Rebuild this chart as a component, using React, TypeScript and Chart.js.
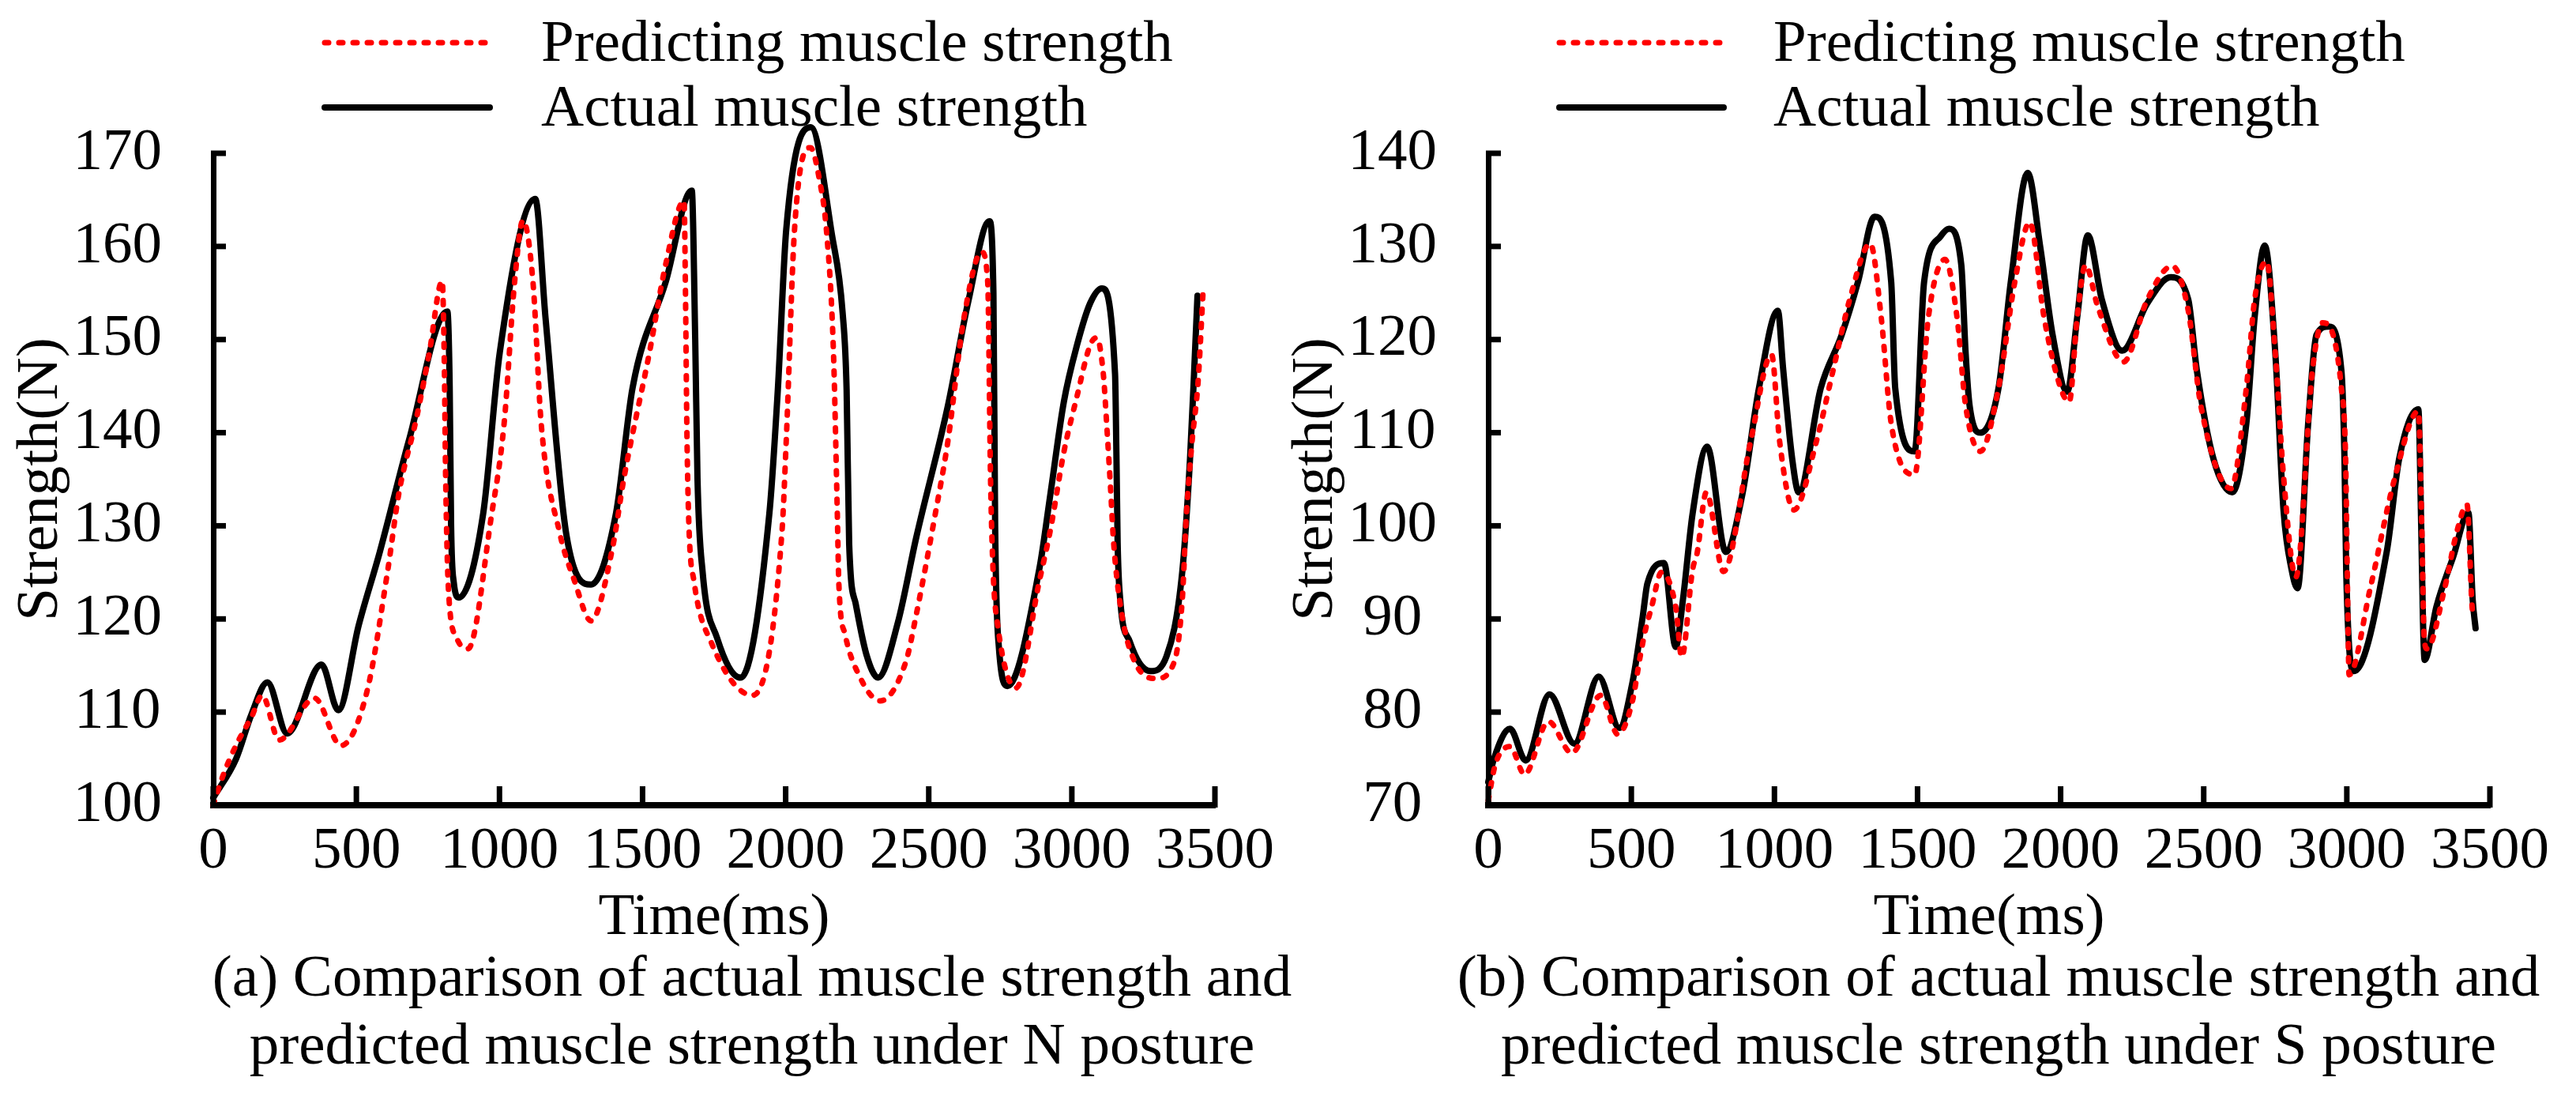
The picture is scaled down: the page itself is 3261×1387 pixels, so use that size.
import React, { useEffect, useRef } from "react";
import { Chart, registerables } from "chart.js";

Chart.register(...registerables);

const FONT_FAMILY = '"Liberation Serif", "Times New Roman", Times, serif';
const FONT_SIZE = 75;

// ---------- text ----------
const seriesNames = ["Predicting muscle strength", "Actual muscle strength"];
const xAxisTitle = "Time(ms)";
const yAxisTitle = "Strength(N)";
const captionA = [
  "(a) Comparison of actual muscle strength and",
  "predicted muscle strength under N posture",
];
const captionB = [
  "(b) Comparison of actual muscle strength and",
  "predicted muscle strength under S posture",
];

// ---------- axis ranges ----------
const xMin = 0;
const xMax = 3500;
const xStep = 500;
const yRangeA = [100, 170];
const yRangeB = [70, 140];
const yStep = 10;

// ---------- data: [time ms, strength N] ----------
const actualA: number[][] = [
  [0, 100.8], [80, 105], [134, 109.8], [189, 113.2], [258, 107.7], [378, 115.1],
  [437, 110.2], [508, 119.3], [581, 127.1], [683, 139.1], [818, 153], [826, 145],
  [831, 130], [840, 124], [858, 122.3], [943, 131.3], [1001, 148.6], [1125, 165.1],
  [1161, 152.3], [1234, 129], [1320, 123.7], [1407, 131.3], [1465, 144.8], [1581, 156.2],
  [1672, 166], [1684, 150], [1692, 135], [1710, 125], [1760, 118], [1843, 113.7],
  [1943, 131.3], [1973, 144.8], [2002, 161.8], [2088, 172.8], [2162, 161.2], [2199, 152.9],
  [2213, 144.6], [2222, 128], [2245, 121.6], [2282, 116.2], [2323, 113.7], [2392, 119.6],
  [2456, 128.7], [2567, 142.9], [2639, 154.2], [2712, 162.7],
  [2726, 155], [2732, 130], [2745, 117], [2775, 112.8], [2886, 125.3], [2926, 133.6],
  [2972, 143.3], [3018, 149.4], [3064, 153.9], [3105, 155.5], [3151, 146.3], [3156, 137.2],
  [3160, 128.2], [3169, 122.1], [3202, 117.6], [3275, 114.4], [3331, 116], [3386, 125.1],
  [3413, 137.2], [3427, 146.3], [3439, 154.7],
];
const predictedA: number[][] = [
  [0, 100], [33, 103.1], [79, 106.4], [134, 109.5], [171, 111.8], [230, 107],
  [354, 111.5], [446, 106.4], [537, 112.2], [610, 125.3], [648, 133.4], [711, 141.7],
  [755, 148.6], [800, 156.3], [807, 148], [812, 135], [822, 123], [850, 118],
  [890, 116.8], [973, 131.3], [1016, 140.9], [1053, 156.2], [1082, 162.8], [1117, 156.2],
  [1146, 140.9], [1210, 129.3], [1262, 124.1], [1320, 119.8], [1393, 127.3], [1436, 135.3],
  [1524, 148.6], [1581, 158.1], [1645, 164.9], [1650, 155], [1655, 140], [1662, 130],
  [1680, 124], [1741, 117.4], [1885, 111.8], [1987, 129.3], [2002, 139.1], [2031, 161.8],
  [2087, 170.6], [2116, 167.5], [2144, 161.2], [2167, 148.7], [2180, 132.1], [2186, 123.7],
  [2208, 118.3], [2254, 114.1], [2330, 111.2], [2420, 115.4], [2456, 120.4],
  [2523, 131.3], [2567, 139.1], [2623, 152.3], [2685, 159.4], [2706, 156.2],
  [2716, 135], [2725, 125], [2741, 119.3], [2805, 112.6], [2886, 124], [2926, 129.7],
  [2972, 137.9], [3018, 143.9], [3064, 149.4], [3087, 150.2], [3110, 146.3], [3123, 140.3],
  [3135, 134.2], [3146, 128.2], [3174, 120.6], [3220, 115.4], [3294, 113.6], [3358, 115.4],
  [3386, 122.1], [3400, 131], [3420, 139], [3441, 145.4], [3459, 155.4],
];
const actualB: number[][] = [
  [0, 72.5], [20, 75], [76, 78.2], [131, 74.8], [214, 81.9], [301, 76.6],
  [386, 83.8], [458, 78.3], [504, 83.2], [540, 90.3], [556, 93.8], [614, 96],
  [655, 87], [680, 92], [714, 101.3], [765, 108.5], [830, 97.2], [888, 103.4],
  [946, 114.8], [1012, 123.1], [1030, 117], [1062, 107.2], [1085, 103.6], [1162, 114.8],
  [1235, 120.5], [1292, 126.2], [1350, 133.2], [1408, 126.2], [1422, 114.8], [1490, 108],
  [1523, 126.2], [1581, 131.1], [1610, 131.9], [1653, 128], [1668, 118.6], [1682, 112.9],
  [1720, 110], [1783, 114.8], [1826, 126.2], [1885, 137.9], [1929, 129.9], [1972, 120.5],
  [2023, 114.4], [2058, 122.4], [2095, 131.2], [2144, 124.3], [2215, 118.8], [2303, 123.9],
  [2385, 126.7], [2446, 124.3], [2476, 116.7], [2534, 107.2], [2600, 103.6], [2649, 111],
  [2678, 122.4], [2713, 130.1], [2750, 118.6], [2779, 101.6], [2807, 95.3], [2828, 93.3],
  [2865, 111], [2894, 120.5], [2937, 121.4], [2981, 116.7], [2992, 107], [2998, 95],
  [3025, 84.4], [3140, 97.3], [3183, 107.2], [3250, 112.5], [3260, 100], [3266, 90],
  [3272, 85.6], [3313, 91.3], [3371, 96.6], [3425, 101.4], [3440, 92], [3450, 89],
];
const predictedB: number[][] = [
  [0, 70.5], [25, 74.4], [76, 76.3], [127, 73.3], [210, 79], [292, 75.6],
  [393, 81.8], [453, 77.6], [504, 81.2], [531, 86], [550, 88.9], [571, 91.3],
  [605, 95], [655, 91.3], [676, 85.9], [714, 95.3], [730, 97.1], [762, 103.6],
  [822, 95.1], [917, 109.1], [990, 118.4], [1018, 109.1], [1068, 101.7], [1147, 109.1],
  [1205, 116.7], [1263, 124.3], [1335, 130.3], [1373, 122.4], [1408, 111], [1490, 105.5],
  [1538, 122.4], [1596, 128.6], [1638, 122.4], [1668, 112.9], [1720, 108], [1783, 114.8],
  [1840, 126.2], [1892, 132.6], [1942, 122.4], [2000, 114.8], [2030, 113.3], [2058, 122.4],
  [2087, 128], [2130, 123.5], [2220, 117.6], [2303, 124.3], [2390, 127.9], [2446, 123.1],
  [2490, 112.9], [2595, 104], [2649, 114.8], [2678, 124.3], [2720, 128.4], [2750, 118.6],
  [2779, 105.3], [2822, 94.5], [2880, 116.7], [2915, 121.8], [2981, 114.8], [2996, 107],
  [3003, 92], [3008, 84], [3082, 93.3], [3169, 105.3], [3250, 112.3], [3262, 100],
  [3270, 88.2], [3280, 86.8], [3342, 93.3], [3384, 99.3], [3420, 102.3], [3437, 91.7],
  [3440, 90.5],
];

// ---------- layout (pixels) ----------
const CANVAS_W = 1647;
const CANVAS_H = 1387;
const AREA_LEFT = 270;
const AREA_TOP = 194;
const AREA_BOTTOM = 1019;
const AREA_RIGHT_PAD = 109;
const X_TICK_LEN = 24;
const Y_TICK_LEN = 16;

const decorPlugin = {
  id: "decor",
  afterDraw(chart: any, _args: any, opts: any) {
    const ctx = chart.ctx;
    const datasets = chart.data.datasets;
    const xs = chart.scales.x;
    const ys = chart.scales.y;
    const area = chart.chartArea;

    // inward tick marks, placed from the library's scales
    ctx.save();
    ctx.strokeStyle = "#000000";
    ctx.lineCap = "butt";
    ctx.setLineDash([]);
    ctx.lineWidth = 7;
    const xTicks = xs.ticks || [];
    for (let i = 0; i < xTicks.length; i++) {
      const px = xs.getPixelForValue(xTicks[i].value);
      ctx.beginPath();
      ctx.moveTo(px, area.bottom + 3);
      ctx.lineTo(px, area.bottom - X_TICK_LEN);
      ctx.stroke();
    }
    const yTicks = ys.ticks || [];
    for (let i = 0; i < yTicks.length; i++) {
      const py = ys.getPixelForValue(yTicks[i].value);
      ctx.beginPath();
      ctx.moveTo(area.left - 3, py);
      ctx.lineTo(area.left + Y_TICK_LEN, py);
      ctx.stroke();
    }
    ctx.restore();

    // legend
    ctx.save();
    datasets.forEach((ds: any, i: number) => {
      const ly = opts.legendLineY[i];
      ctx.save();
      ctx.strokeStyle = ds.borderColor;
      ctx.lineWidth = ds.borderWidth;
      ctx.lineCap = "round";
      ctx.setLineDash(ds.borderDash || []);
      ctx.beginPath();
      ctx.moveTo(opts.legendLineX[0], ly);
      ctx.lineTo(opts.legendLineX[1], ly);
      ctx.stroke();
      ctx.restore();
      ctx.fillStyle = "#000";
      ctx.font = `${FONT_SIZE}px ${FONT_FAMILY}`;
      ctx.textAlign = "left";
      ctx.textBaseline = "alphabetic";
      ctx.fillText(ds.label, opts.legendTextX, opts.legendTextY[i]);
    });
    // caption
    ctx.fillStyle = "#000";
    ctx.font = `${FONT_SIZE}px ${FONT_FAMILY}`;
    ctx.textAlign = "center";
    ctx.textBaseline = "alphabetic";
    opts.caption.forEach((line: string, i: number) => {
      ctx.fillText(line, opts.captionX, opts.captionY[i]);
    });
    ctx.restore();
  },
};

function makeConfig(
  predicted: number[][],
  actual: number[][],
  yRange: number[],
  decor: any
): any {
  const font = { family: FONT_FAMILY, size: FONT_SIZE };
  return {
    type: "line",
    data: {
      datasets: [
        {
          label: seriesNames[0],
          data: predicted.map(([x, y]) => ({ x, y })),
          borderColor: "#ff0000",
          borderWidth: 7,
          borderDash: [5, 13],
          borderCapStyle: "round",
          borderJoinStyle: "round",
          pointRadius: 0,
          fill: false,
          clip: false,
          cubicInterpolationMode: "monotone",
        },
        {
          label: seriesNames[1],
          data: actual.map(([x, y]) => ({ x, y })),
          borderColor: "#000000",
          borderWidth: 8,
          borderJoinStyle: "round",
          borderCapStyle: "round",
          pointRadius: 0,
          fill: false,
          clip: false,
          cubicInterpolationMode: "monotone",
        },
      ],
    },
    options: {
      responsive: false,
      animation: false,
      events: [],
      layout: {
        padding: { top: AREA_TOP, right: AREA_RIGHT_PAD, bottom: 0, left: 0 },
      },
      plugins: {
        legend: { display: false },
        title: { display: false },
        tooltip: { enabled: false },
        decor,
      },
      scales: {
        x: {
          type: "linear",
          min: xMin,
          max: xMax,
          afterFit: (scale: any) => {
            scale.height = CANVAS_H - AREA_BOTTOM;
          },
          ticks: {
            stepSize: xStep,
            autoSkip: false,
            maxRotation: 0,
            color: "#000",
            font,
            padding: 14,
            callback: (v: any) => String(v),
          },
          grid: { display: false, drawOnChartArea: false, drawTicks: false },
          border: { display: true, color: "#000", width: 8 },
          title: {
            display: true,
            text: xAxisTitle,
            color: "#000",
            font,
            padding: { top: 0, bottom: 180 },
          },
        },
        y: {
          type: "linear",
          min: yRange[0],
          max: yRange[1],
          afterFit: (scale: any) => {
            scale.width = AREA_LEFT;
          },
          ticks: {
            stepSize: yStep,
            color: "#000",
            font,
            padding: 65,
            crossAlign: "center",
            callback: (v: any) => String(v),
          },
          grid: { display: false, drawOnChartArea: false, drawTicks: false },
          border: { display: true, color: "#000", width: 7 },
          title: {
            display: true,
            text: yAxisTitle,
            color: "#000",
            font,
            padding: { top: 7, bottom: 0 },
          },
        },
      },
    },
    plugins: [decorPlugin],
  };
}

function Panel(props: { config: any; left: number }) {
  const ref = useRef<HTMLCanvasElement | null>(null);
  useEffect(() => {
    if (!ref.current) return;
    const chart = new Chart(ref.current, props.config);
    return () => chart.destroy();
  }, []);
  return (
    <canvas
      ref={ref}
      width={CANVAS_W}
      height={CANVAS_H}
      style={{
        position: "absolute",
        left: props.left,
        top: 0,
        width: CANVAS_W,
        height: CANVAS_H,
      }}
    />
  );
}

export default function App() {
  const configA = makeConfig(predictedA, actualA, yRangeA, {
    legendLineX: [411, 620],
    legendLineY: [54, 136],
    legendTextX: 685,
    legendTextY: [77, 159],
    caption: captionA,
    captionX: 952,
    captionY: [1260, 1346],
  });
  const configB = makeConfig(predictedB, actualB, yRangeB, {
    legendLineX: [360, 568],
    legendLineY: [54, 136],
    legendTextX: 631,
    legendTextY: [77, 159],
    caption: captionB,
    captionX: 916,
    captionY: [1260, 1346],
  });
  return (
    <div
      style={{
        position: "absolute",
        left: 0,
        top: 0,
        width: 3261,
        height: 1387,
        background: "#fff",
        overflow: "hidden",
      }}
    >
      <Panel config={configA} left={0} />
      <Panel config={configB} left={1614} />
    </div>
  );
}
